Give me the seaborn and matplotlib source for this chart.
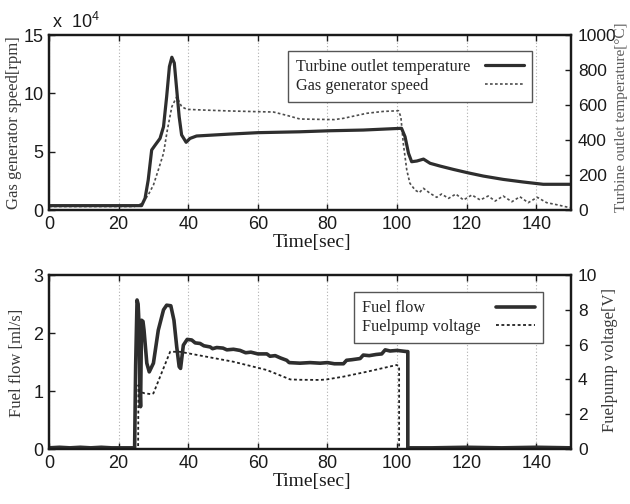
import matplotlib
matplotlib.use("Agg")
import matplotlib.pyplot as plt
import seaborn as sns
import pandas as pd

# ---- Gas turbine start-up test: speed and outlet temperature ----
speed_time = [0, 24.5, 26.0, 27.1, 28.5, 30.0, 31.4, 32.9, 34.0, 35.3, 36.7,
              38.1, 39.6, 44.3, 52.0, 60.0, 64.5, 68.5, 72.1, 77.9, 82.0,
              84.6, 91.3, 96.0, 100.4, 101.1, 101.8, 102.8, 103.7, 105.2,
              106.4, 107.6, 109.5, 111.4, 112.8, 114.8, 116.9, 119.1, 121.5,
              123.9, 126.2, 128.2, 130.5, 133.0, 135.3, 137.7, 140.3, 143.0,
              146.3, 149.2, 150.0]
speed_rpm = [3000, 3000, 4500, 7100, 12900, 21400, 34300, 48600, 68600,
             88600, 97100, 88600, 86300, 85700, 84900, 84300, 84000, 81000,
             78000, 77700, 77500, 78600, 82900, 84500, 85100, 80000, 57100,
             34300, 22900, 17100, 14900, 18600, 14300, 10900, 13700, 10000,
             13700, 8600, 12900, 8600, 12000, 7700, 12000, 7100, 11400, 6300,
             10900, 6300, 4300, 2300, 2000]

temp_time = [0, 26.6, 27.6, 28.5, 29.5, 30.5, 31.9, 32.9, 33.8, 34.6, 35.3,
             36.0, 36.7, 37.4, 38.1, 39.4, 40.5, 42.4, 52.0, 60.0, 72.0,
             80.7, 90.3, 101.3, 102.3, 103.3, 104.2, 105.7, 107.6, 109.5,
             112.4, 116.2, 120.3, 124.8, 130.5, 136.3, 142.0, 149.2, 150.0]
temp_c = [25, 25, 67, 171, 343, 371, 409, 476, 647, 820, 873, 840, 687, 533,
          429, 387, 409, 423, 434, 442, 447, 453, 457, 467, 419, 324, 276,
          280, 291, 267, 251, 232, 213, 194, 175, 160, 147, 147, 147]

# ---- Fuel system: flow rate and pump voltage ----
flow_time = [0, 3, 6, 9, 12, 15, 18, 21, 24.6, 24.9, 25.3, 25.6, 25.9, 26.1,
             26.3, 26.6, 27.0, 27.3, 28.1, 28.8, 30.0, 31.4, 32.9, 33.8, 35.0,
             35.9, 36.7, 37.4, 37.8, 38.6, 39.7, 41.0, 42.0, 43.4, 44.5, 46.3,
             47.0, 48.2, 50.0, 51.1, 53.0, 54.9, 56.5, 58.0, 60.0, 62.6, 63.5,
             65.0, 66.5, 68.3, 69.0, 72.1, 75.0, 77.9, 80.0, 82.0, 84.6, 85.5,
             87.0, 89.4, 90.3, 92.0, 94.0, 95.6, 96.6, 98.0, 100.0, 102.8,
             103.1, 103.1, 110, 120, 130, 140, 150]
flow_mls = [0.02, 0.03, 0.02, 0.03, 0.02, 0.03, 0.02, 0.02, 0.02, 1.45, 2.57,
            2.50, 2.10, 1.10, 0.73, 2.22, 2.20, 2.05, 1.48, 1.33, 1.48, 2.05,
            2.40, 2.48, 2.47, 2.22, 1.76, 1.42, 1.39, 1.79, 1.89, 1.88, 1.83,
            1.82, 1.78, 1.76, 1.73, 1.75, 1.74, 1.71, 1.72, 1.70, 1.66, 1.67,
            1.64, 1.64, 1.60, 1.61, 1.57, 1.53, 1.49, 1.48, 1.49, 1.48, 1.49,
            1.47, 1.47, 1.53, 1.54, 1.56, 1.62, 1.61, 1.63, 1.64, 1.71, 1.69,
            1.70, 1.68, 1.68, 0.02, 0.02, 0.03, 0.02, 0.03, 0.02]

volt_time = [0, 25.6, 25.7, 26.0, 27.5, 29.5, 30.0, 34.8, 37.6, 52.9, 62.6,
             69.3, 72.1, 77.9, 79.8, 84.6, 91.3, 99.9, 100.6, 100.6, 150]
volt_v = [0, 0, 3.68, 3.30, 3.20, 3.15, 3.20, 5.59, 5.59, 5.02, 4.54, 4.00,
          3.98, 3.97, 4.00, 4.16, 4.44, 4.83, 4.75, 0, 0]

x_ticks = [0, 20, 40, 60, 80, 100, 120, 140]

speed_df = pd.DataFrame({"t": speed_time, "v": [s / 1e4 for s in speed_rpm]})
temp_df = pd.DataFrame({"t": temp_time, "v": temp_c})
flow_df = pd.DataFrame({"t": flow_time, "v": flow_mls})
volt_df = pd.DataFrame({"t": volt_time, "v": volt_v})

sns.set_style("white")
plt.rcParams["font.family"] = ["Liberation Sans", "DejaVu Sans"]
SERIF = ["Liberation Serif", "DejaVu Serif"]

SOLID = "#2e2e2e"
DOT = "#4d4d4d"
DOTS = (0, (1.6, 1.4))

fig = plt.figure(figsize=(6.3, 5.04), dpi=100)
fig.patch.set_facecolor("white")

ax1 = fig.add_axes([0.0778, 0.5833, 0.8286, 0.3472])
ax1r = ax1.twinx()
ax2 = fig.add_axes([0.0778, 0.1091, 0.8286, 0.3452])
ax2r = ax2.twinx()

# upper panel
sns.lineplot(data=speed_df, x="t", y="v", ax=ax1, estimator=None, sort=False,
             color=DOT, lw=1.2, linestyle=DOTS, legend=False)
sns.lineplot(data=temp_df, x="t", y="v", ax=ax1r, estimator=None, sort=False,
             color=SOLID, lw=2.3, legend=False)

# lower panel
sns.lineplot(data=flow_df, x="t", y="v", ax=ax2, estimator=None, sort=False,
             color=SOLID, lw=2.6, legend=False)
sns.lineplot(data=volt_df, x="t", y="v", ax=ax2r, estimator=None, sort=False,
             color="#222222", lw=1.3, linestyle=DOTS, legend=False)

for ax, axr, ylim, rlim, yt, rt in [
        (ax1, ax1r, (0, 15), (0, 1000), [0, 5, 10, 15], range(0, 1001, 200)),
        (ax2, ax2r, (0, 3), (0, 10), [0, 1, 2, 3], range(0, 11, 2))]:
    ax.set_xlim(0, 150)
    ax.set_ylim(*ylim)
    axr.set_ylim(*rlim)
    ax.set_xticks(x_ticks)
    ax.set_yticks(yt)
    axr.set_yticks(list(rt))
    ax.grid(axis="x", color="#b0b0b0", linestyle=(0, (1, 2)), lw=0.8)
    ax.grid(axis="y", visible=False)
    axr.grid(False)
    ax.tick_params(axis="both", direction="in", length=4, width=1,
                   top=True, bottom=True, left=True, right=False,
                   labelsize=13, pad=4, colors="#1a1a1a")
    axr.tick_params(axis="y", direction="in", length=4, width=1,
                    right=True, left=False, labelsize=12.5, pad=5,
                    colors="#1a1a1a")
    for a in (ax, axr):
        for sp in a.spines.values():
            sp.set_linewidth(1.6)
            sp.set_color("#1a1a1a")
    ax.set_xlabel("Time[sec]", fontsize=14, family=SERIF, color="#1a1a1a",
                  labelpad=1)

ax1.xaxis.set_label_coords(0.503, -0.135)
ax2.xaxis.set_label_coords(0.503, -0.14)

ax1.set_ylabel("Gas generator speed[rpm]", fontsize=12, family=SERIF,
               color="#3a3a3a")
ax1.yaxis.set_label_coords(-0.052, 0.5)
ax1r.set_ylabel("Turbine outlet temperature[°C]", fontsize=11,
                family=SERIF, color="#5a5a5a")
ax1r.yaxis.set_label_coords(1.084, 0.531)

ax2.set_ylabel("Fuel flow [ml/s]", fontsize=12, family=SERIF, color="#3a3a3a")
ax2.yaxis.set_label_coords(-0.046, 0.497)
ax2r.set_ylabel("Fuelpump voltage[V]", fontsize=12, family=SERIF,
                color="#3a3a3a")
ax2r.yaxis.set_label_coords(1.059, 0.511)

# exponent marker for the speed axis
ax1.text(0.005, 1.02, r"x  $\mathregular{10^{4}}$", transform=ax1.transAxes,
         fontsize=13, ha="left", va="bottom", color="#1a1a1a")

# legends: text on the left, line sample on the right
leg_kw = dict(markerfirst=False, fancybox=False, framealpha=1,
              edgecolor="#555555", handlelength=2.4, handletextpad=0.9,
              borderaxespad=0, borderpad=0.5, labelspacing=0.15,
              prop={"family": SERIF, "size": 11.7})
h_temp = ax1r.get_lines()[0]
h_speed = ax1.get_lines()[0]
leg1 = ax1r.legend([h_temp, h_speed],
                   ["Turbine outlet temperature", "Gas generator speed"],
                   loc="upper right", bbox_to_anchor=(0.925, 0.909), **leg_kw)
h_flow = ax2.get_lines()[0]
h_volt = ax2r.get_lines()[0]
leg2 = ax2r.legend([h_flow, h_volt], ["Fuel flow", "Fuelpump voltage"],
                   loc="upper right", bbox_to_anchor=(0.946, 0.902), **leg_kw)

# left-justify the labels while keeping the line samples in one column
renderer = fig.canvas.get_renderer()
for leg in (leg1, leg2):
    leg.get_frame().set_linewidth(1.0)
    widths = [t.get_window_extent(renderer).width for t in leg.get_texts()]
    wmax = max(widths)
    for col in leg._legend_handle_box.get_children():
        col.align = "left"
        for row, w in zip(col.get_children(), widths):
            row.sep = row.sep + (wmax - w) * 72.0 / fig.dpi

fig.savefig("out.png", dpi=100, facecolor="white")
